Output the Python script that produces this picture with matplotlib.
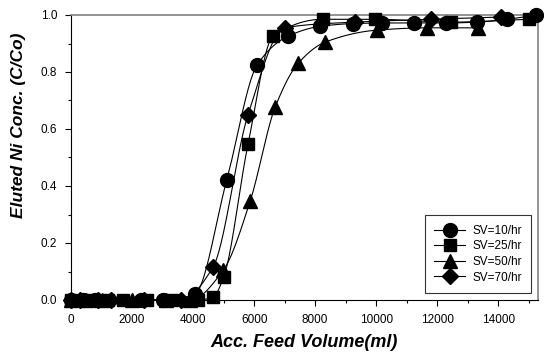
import numpy as np
import matplotlib
matplotlib.use("Agg")
import matplotlib.pyplot as plt
from matplotlib.ticker import MultipleLocator

plt.rcParams['font.family'] = ['Liberation Sans', 'DejaVu Sans']

labels = ["SV=10/hr", "SV=25/hr", "SV=50/hr", "SV=70/hr"]
markers = ["o", "s", "^", "D"]
msizes = [10, 8.5, 10, 8.5]

x_sv10 = [0, 400, 800, 2300, 3000, 4050, 5100, 6100, 7100, 8150, 9250, 10200, 11250, 12300, 13300, 14300, 15250]
y_sv10 = [0, 0, 0, 0, 0, 0.02, 0.42, 0.825, 0.925, 0.96, 0.97, 0.972, 0.972, 0.972, 0.975, 0.985, 1.0]

x_sv25 = [0, 600, 1200, 1700, 2500, 3300, 4150, 4650, 5000, 5800, 6620, 8260, 9970, 12450, 15000]
y_sv25 = [0, 0, 0, 0, 0, 0, 0, 0.01, 0.08, 0.547, 0.926, 0.985, 0.985, 0.975, 0.985]

x_sv50 = [0, 500, 1000, 2000, 3100, 3900, 4990, 5870, 6690, 7440, 8330, 10030, 11670, 13340]
y_sv50 = [0, 0, 0, 0, 0, 0, 0.105, 0.347, 0.677, 0.83, 0.905, 0.947, 0.955, 0.955]

x_sv70 = [0, 300, 900, 1300, 2400, 3600, 4650, 5800, 7000, 9300, 11800, 14100]
y_sv70 = [0, 0, 0, 0, 0, 0, 0.115, 0.65, 0.955, 0.975, 0.985, 0.993]

series = [(x_sv10, y_sv10), (x_sv25, y_sv25), (x_sv50, y_sv50), (x_sv70, y_sv70)]


def pchip(x, y, xs):
    x = np.asarray(x, float); y = np.asarray(y, float)
    h = np.diff(x); d = np.diff(y) / h
    n = len(x); m = np.zeros(n)
    for k in range(1, n - 1):
        if d[k - 1] * d[k] > 0:
            w1 = 2 * h[k] + h[k - 1]; w2 = h[k] + 2 * h[k - 1]
            m[k] = (w1 + w2) / (w1 / d[k - 1] + w2 / d[k])
    m[0] = 0
    m[-1] = d[-1]
    idx = np.clip(np.searchsorted(x, xs) - 1, 0, n - 2)
    t = (xs - x[idx]) / h[idx]
    h00 = 2 * t**3 - 3 * t**2 + 1; h10 = t**3 - 2 * t**2 + t
    h01 = -2 * t**3 + 3 * t**2; h11 = t**3 - t**2
    return h00 * y[idx] + h10 * h[idx] * m[idx] + h01 * y[idx + 1] + h11 * h[idx] * m[idx + 1]


fig = plt.figure(figsize=(5.44, 3.56), dpi=100)
ax = fig.add_axes([71 / 544, 1 - 300 / 356, (538 - 71) / 544, (300 - 15) / 356])

for (xs, ys), mk, ms, lb in zip(series, markers, msizes, labels):
    xx = np.linspace(xs[0], xs[-1], 600)
    ax.plot(xx, pchip(xs, ys, xx), color='black', lw=0.8, zorder=2)
    ax.plot(xs, ys, linestyle='none', marker=mk, color='black',
            markersize=ms, clip_on=False, zorder=3)
    ax.plot([], [], color='black', lw=0.8, marker=mk, markersize=ms, label=lb)

ax.set_xlim(0, 15300)
ax.set_ylim(0, 1.0)
ax.xaxis.set_major_locator(MultipleLocator(2000))
ax.xaxis.set_minor_locator(MultipleLocator(1000))
ax.yaxis.set_major_locator(MultipleLocator(0.2))
ax.yaxis.set_minor_locator(MultipleLocator(0.1))
ax.yaxis.set_major_formatter(matplotlib.ticker.FormatStrFormatter('%.1f'))
ax.tick_params(which='major', direction='out', length=4, width=0.8, labelsize=8.5, pad=6)
ax.tick_params(which='minor', direction='out', length=2.5, width=0.8)
for s in ['top', 'right']:
    ax.spines[s].set_color('#808080')
    ax.spines[s].set_linewidth(1.2)
for s in ['left', 'bottom']:
    ax.spines[s].set_color('black')
    ax.spines[s].set_linewidth(0.8)

ax.set_xlabel('Acc. Feed Volume(ml)', fontsize=13, fontweight='bold', fontstyle='italic', labelpad=6)
ax.set_ylabel('Eluted Ni Conc. (C/Co)', fontsize=12.5, fontweight='bold', fontstyle='italic')
ax.yaxis.set_label_coords(-0.097, 0.614)

leg = ax.legend(loc='lower right', bbox_to_anchor=(531 / 544, 1 - 293 / 356), bbox_transform=fig.transFigure,
                fontsize=8.5, frameon=True, fancybox=False, edgecolor='black', handlelength=2.6,
                borderpad=0.8, labelspacing=0.3, handletextpad=0.6, borderaxespad=0)
leg.get_frame().set_linewidth(0.8)

fig.savefig('out.png', dpi=100)
